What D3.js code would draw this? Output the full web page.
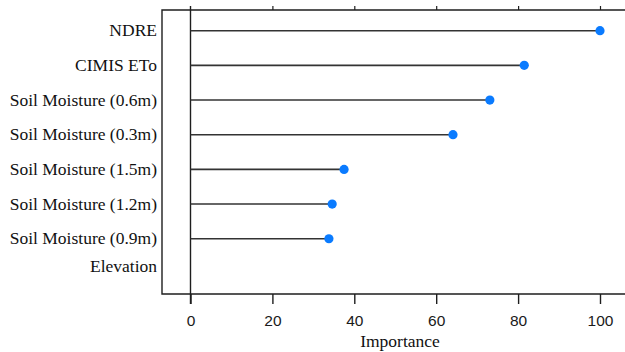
<!DOCTYPE html>
<html>
<head>
<meta charset="utf-8">
<script src="https://cdn.jsdelivr.net/npm/d3@7"></script>
<style>
  html, body { margin: 0; padding: 0; background: #fff; }
  svg { display: block; }
</style>
</head>
<body>
<svg id="chart" width="625" height="352"></svg>
<script>
// Variable importance, listed top to bottom
const features = [
  "NDRE",
  "CIMIS ETo",
  "Soil Moisture (0.6m)",
  "Soil Moisture (0.3m)",
  "Soil Moisture (1.5m)",
  "Soil Moisture (1.2m)",
  "Soil Moisture (0.9m)",
  "Elevation"
];
const importance = [100, 81.5, 73.1, 64.1, 37.5, 34.6, 33.8, 0];
const xTicks = [0, 20, 40, 60, 80, 100];
const xTitle = "Importance";

const svg = d3.select("#chart");

// Plot frame (open on the right, runs past the window edge)
const frame = { left: 162, top: 10, right: 640, bottom: 294 };

const x = d3.scaleLinear().domain([0, 100]).range([190.5, 600]);
const y = d3.scalePoint().domain(features).range([30.7, 273.4]);

const data = features.map((f, i) => ({ feature: f, value: importance[i] }));

const ink = "#1e1e1e";

// Frame lines: left, top, bottom
svg.append("path")
  .attr("d", `M${frame.right},${frame.top}H${frame.left}V${frame.bottom}H${frame.right}`)
  .attr("fill", "none")
  .attr("stroke", ink)
  .attr("stroke-width", 1.4);

// Zero reference line through the whole plot
svg.append("line")
  .attr("x1", x(0)).attr("x2", x(0))
  .attr("y1", frame.top - 4).attr("y2", frame.bottom + 10)
  .attr("stroke", ink)
  .attr("stroke-width", 1.4);

// Bottom axis
const bottomAxis = d3.axisBottom(x).tickValues(xTicks).tickSize(10).tickPadding(11).tickFormat(d3.format("d"));
const gb = svg.append("g").attr("transform", `translate(0,${frame.bottom})`).call(bottomAxis);
gb.select(".domain").remove();
gb.selectAll(".tick line").attr("stroke", ink).attr("stroke-width", 1.4);
gb.selectAll(".tick text")
  .attr("fill", "#1a1a1a")
  .style("font-family", "'Liberation Sans', Arial, sans-serif")
  .style("font-size", "15.5px");

// Small ticks on the top edge
const topAxis = d3.axisTop(x).tickValues(xTicks.slice(1)).tickSize(4).tickFormat("");
const gt = svg.append("g").attr("transform", `translate(0,${frame.top})`).call(topAxis);
gt.select(".domain").remove();
gt.selectAll(".tick line").attr("stroke", ink).attr("stroke-width", 1.2);

// Category labels
const emptyRowLift = 7;
svg.append("g").selectAll("text")
  .data(data)
  .join("text")
  .attr("x", 157)
  .attr("y", d => y(d.feature) - (d.value === 0 ? emptyRowLift : 0))
  .attr("dy", "0.32em")
  .attr("text-anchor", "end")
  .attr("fill", "#111")
  .style("font-family", "'Liberation Serif', 'Times New Roman', serif")
  .style("font-size", "17.5px")
  .text(d => d.feature);

// Lollipop stems
const shown = data.filter(d => d.value > 0);
svg.append("g").selectAll("line")
  .data(shown)
  .join("line")
  .attr("x1", x(0))
  .attr("x2", d => x(d.value))
  .attr("y1", d => y(d.feature))
  .attr("y2", d => y(d.feature))
  .attr("stroke", "#333")
  .attr("stroke-width", 1.6);

// Lollipop heads
svg.append("g").selectAll("circle")
  .data(shown)
  .join("circle")
  .attr("cx", d => x(d.value))
  .attr("cy", d => y(d.feature))
  .attr("r", 4.6)
  .attr("fill", "#0a7bff");

// Axis title
svg.append("text")
  .attr("x", 400)
  .attr("y", 347)
  .attr("text-anchor", "middle")
  .attr("fill", "#111")
  .style("font-family", "'Liberation Serif', 'Times New Roman', serif")
  .style("font-size", "17.5px")
  .text(xTitle);
</script>
</body>
</html>
